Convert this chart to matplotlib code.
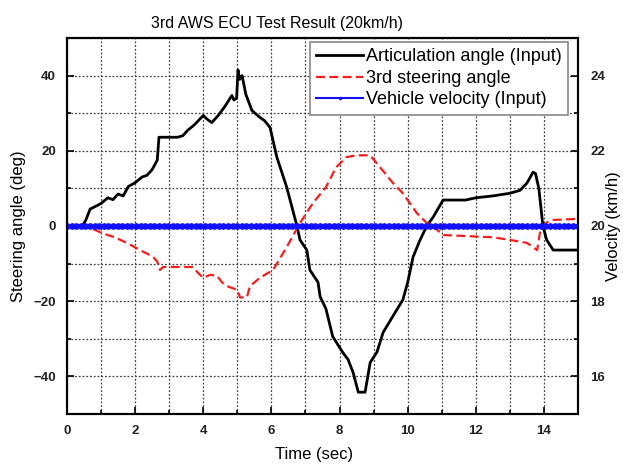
import matplotlib
matplotlib.use("Agg")
import matplotlib.pyplot as plt
import numpy as np
from matplotlib.ticker import MultipleLocator

plt.rcParams['font.family'] = ['Liberation Sans', 'DejaVu Sans']

# Articulation angle (Input) - black
t_art = [0.0, 0.45, 0.55, 0.68, 0.9, 1.0, 1.2, 1.35, 1.5, 1.65, 1.8, 2.0, 2.2, 2.35, 2.5, 2.65, 2.7,
         3.0, 3.25, 3.4, 3.55, 3.75, 4.0, 4.1, 4.25, 4.45, 4.65, 4.84, 4.9, 4.98, 5.02, 5.07, 5.14,
         5.25, 5.43, 5.66, 5.8, 5.96, 6.16, 6.45, 6.75, 6.84, 7.04, 7.13, 7.37, 7.43, 7.6, 7.8,
         8.1, 8.25, 8.4, 8.55, 8.75, 8.9, 9.1, 9.28, 9.5, 9.86, 10.0, 10.16, 10.35, 10.56, 10.75,
         11.04, 11.7, 12.0, 12.5, 13.0, 13.3, 13.5, 13.68, 13.75, 13.85, 13.97, 14.08, 14.27, 15.0]
y_art = [0.0, 0.0, 1.5, 4.5, 5.5, 6.0, 7.5, 7.0, 8.5, 8.0, 10.5, 11.5, 13.0, 13.5, 15.0, 17.5, 23.6,
         23.6, 23.6, 24.0, 25.5, 27.0, 29.4, 28.5, 27.5, 29.5, 32.0, 34.7, 33.5, 34.0, 41.5, 39.0, 40.0,
         35.0, 30.7, 28.9, 28.0, 26.2, 18.3, 10.3, 0.0, -3.7, -6.4, -11.7, -15.0, -18.8, -22.0, -29.4,
         -33.7, -35.5, -39.0, -44.2, -44.2, -36.3, -33.5, -28.3, -25.0, -19.6, -15.0, -8.2, -4.0, 0.0, 2.4,
         6.9, 6.9, 7.5, 8.0, 8.7, 9.5, 11.4, 14.3, 14.0, 10.0, 0.0, -3.7, -6.4, -6.4]

# 3rd steering angle - red dashed
t_str = [0.0, 0.5, 0.68, 1.06, 1.4, 1.76, 2.14, 2.53, 2.65, 2.73, 2.82, 3.2, 3.7, 3.85, 4.0, 4.2, 4.4,
         4.55, 4.7, 5.0, 5.08, 5.28, 5.37, 5.66, 6.05, 6.45, 6.84, 7.22, 7.6, 7.9, 8.2, 8.5, 8.9, 9.19,
         9.57, 9.86, 10.27, 10.56, 10.86, 11.04, 12.0, 12.5, 13.0, 13.5, 13.8, 13.88, 13.97, 14.1, 14.27, 15.0]
y_str = [0.0, 0.0, -0.5, -2.0, -3.0, -4.5, -6.4, -8.2, -9.5, -11.7, -10.9, -10.9, -10.9, -12.5, -13.8, -13.0, -13.2,
         -15.0, -16.0, -17.0, -19.0, -19.0, -16.0, -13.8, -11.7, -5.6, 0.8, 6.1, 10.3, 15.6, 18.3, 18.8, 18.8, 15.6,
         11.4, 8.7, 3.4, 0.8, -1.0, -2.4, -2.8, -3.0, -3.7, -4.5, -6.4, -1.9, 0.0, 1.0, 1.6, 1.9]

# Vehicle velocity (Input) - blue, km/h
t_vel = np.arange(0.0, 15.01, 0.135)
v_vel = [20.0] * len(t_vel)

fig = plt.figure(figsize=(6.23, 4.66), dpi=100)
ax = fig.add_axes([0.1075, 0.1116, 0.8203, 0.8069])
ax2 = ax.twinx()

l1, = ax.plot(t_art, y_art, color='black', lw=2.0, label='Articulation angle (Input)')
l2, = ax.plot(t_str, y_str, color='#ff1a1a', lw=1.6, ls=(0, (4, 2)), label='3rd steering angle')
l3, = ax2.plot(t_vel, v_vel, color='#1010ff', lw=1.5, marker='o', ms=3.8, label='Vehicle velocity (Input)')

ax.set_xlim(0, 15)
ax.set_ylim(-50, 50)
ax2.set_ylim(15, 25)

ax.xaxis.set_major_locator(MultipleLocator(2))
ax.xaxis.set_minor_locator(MultipleLocator(1))
ax.yaxis.set_major_locator(MultipleLocator(20))
ax.yaxis.set_minor_locator(MultipleLocator(10))
ax2.yaxis.set_major_locator(MultipleLocator(2))
ax2.yaxis.set_minor_locator(MultipleLocator(1))

ax.grid(True, which='both', ls=(0, (1.5, 1.5)), color='#444444', lw=0.9)

for a in (ax, ax2):
    a.tick_params(which='both', direction='in', labelsize=9.5, width=1.2)
    a.tick_params(which='major', length=5)
    a.tick_params(which='minor', length=3)
    for lab in a.get_xticklabels() + a.get_yticklabels():
        lab.set_fontweight('bold')
ax.tick_params(top=False, which='both')
ax.tick_params(axis='y', which='both', right=False)
ax.tick_params(axis='x', pad=8)
ax.tick_params(axis='y', pad=8)
ax2.tick_params(axis='y', pad=9)
for lab in ax.get_xticklabels() + ax.get_yticklabels() + ax2.get_yticklabels():
    lab.set_color('#222222')

for s in ax.spines.values():
    s.set_linewidth(1.5)
for s in ax2.spines.values():
    s.set_linewidth(1.5)

ax.set_title('3rd AWS ECU Test Result (20km/h)', fontsize=11.5, pad=7, x=0.411)
ax.set_xlabel('Time (sec)', fontsize=12, va='center')
ax.set_ylabel('Steering angle (deg)', fontsize=12, va='center')
ax2.set_ylabel('Velocity (km/h)', fontsize=12, va='center')
ax.xaxis.set_label_coords(0.483, -0.109)
ax.yaxis.set_label_coords(-0.094, 0.5)
ax2.yaxis.set_label_coords(1.07, 0.5)

leg = ax.legend(handles=[l1, l2, l3], loc='upper right', bbox_to_anchor=(0.98, 0.989),
                borderaxespad=0.0, fontsize=13, frameon=True, fancybox=False,
                handlelength=2.6, handletextpad=0.15, labelspacing=0.25,
                borderpad=0.35, markerscale=0.4)
leg.get_frame().set_edgecolor('#888888')
leg.get_frame().set_linewidth(1.2)
leg.get_frame().set_alpha(1)

fig.savefig('out.png', dpi=100)
